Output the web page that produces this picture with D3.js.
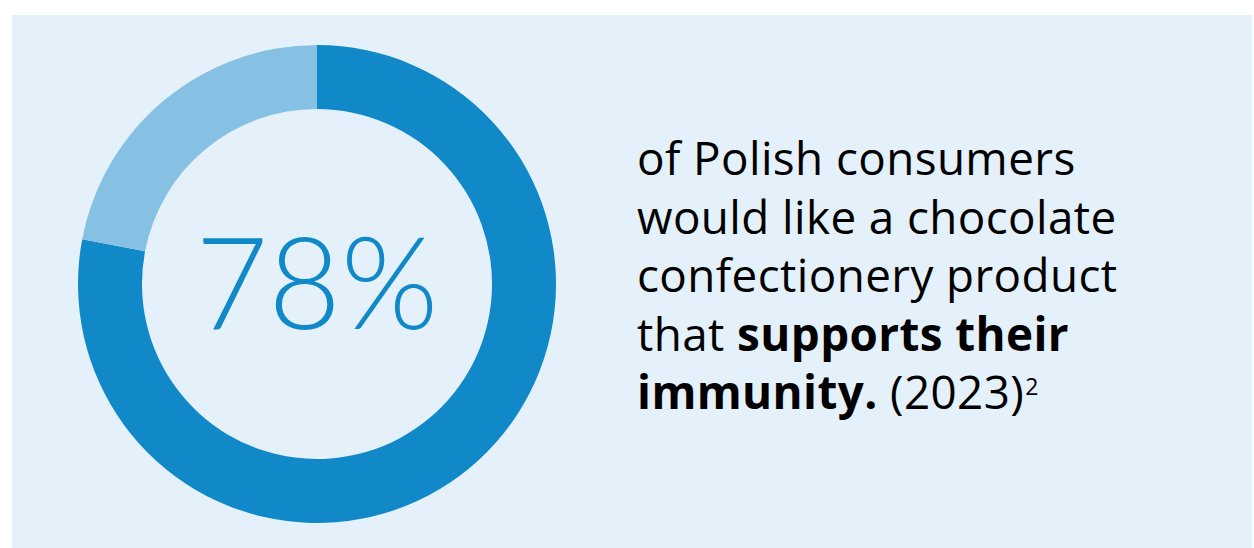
<!DOCTYPE html>
<html>
<head>
<meta charset="utf-8">
<script src="https://cdn.jsdelivr.net/npm/d3@7"></script>
<style>
  html, body { margin: 0; padding: 0; background: #ffffff; }
  svg { display: block; }
</style>
</head>
<body>
<svg id="chart" width="1254" height="548"></svg>
<script>
// Share of Polish consumers wanting an immunity-supporting chocolate product
const segmentNames = ["Would like it", "Other"];
const segmentValues = [78, 22];
const segmentColors = ["#1189C9", "#86C1E4"];
const headlineLabel = "78%";

// Caption lines; each piece is [text, bold?]
const captionLines = [
  [["of Polish consumers", false]],
  [["would like a chocolate", false]],
  [["confectionery product", false]],
  [["that ", false], ["supports their", true]],
  [["immunity.", true], [" (2023)", false]]
];
const footnoteMark = "2";

const W = 1254, H = 548;
const BIG_FONT = "Lato, 'Open Sans', sans-serif";
const TEXT_FONT = "'Open Sans', Lato, sans-serif";
const svg = d3.select("#chart");

// light panel behind everything
svg.append("rect")
  .attr("x", 12).attr("y", 15)
  .attr("width", 1240).attr("height", H - 15)
  .attr("fill", "#E4F1FA");

// donut
const cx = 317, cy = 284;
const pie = d3.pie().sort(null).value(d => d);
const arc = d3.arc().innerRadius(175).outerRadius(239);
const g = svg.append("g").attr("transform", `translate(${cx},${cy})`);
g.selectAll("path")
  .data(pie(segmentValues))
  .join("path")
  .attr("d", arc)
  .attr("fill", (d, i) => segmentColors[i])
  .append("title").text((d, i) => segmentNames[i] + ": " + d.data + "%");

// big percentage in the hole
const big = g.append("text")
  .attr("x", 0)
  .attr("y", 45)
  .attr("text-anchor", "middle")
  .attr("font-family", BIG_FONT)
  .attr("font-weight", 300)
  .attr("font-size", 128)
  .attr("fill", "#1189C9")
  .text(headlineLabel);
const bigW = big.node().getComputedTextLength();
if (Math.abs(bigW - 243) > 3) {
  big.attr("textLength", 243).attr("lengthAdjust", "spacingAndGlyphs");
}

// caption block
const tx = 637, firstBase = 175, lineGap = 58.5;
let fontSize = 36;
const cap = svg.append("g")
  .attr("font-family", TEXT_FONT)
  .attr("letter-spacing", 0.4)
  .attr("fill", "#000000");

const textEls = captionLines.map((pieces, i) => {
  const t = cap.append("text")
    .attr("x", tx)
    .attr("y", firstBase + i * lineGap)
    .attr("font-size", fontSize);
  pieces.forEach(([s, b]) => {
    t.append("tspan")
      .attr("font-weight", b ? 700 : 400)
      .text(s);
  });
  return t;
});

// size the caption so its widest line spans the same measure
const widest = textEls[2].node().getComputedTextLength();
fontSize = fontSize * 483 / widest;
textEls.forEach(t => t.attr("font-size", fontSize));

// footnote marker after the last line
const last = textEls[textEls.length - 1];
last.append("tspan")
  .attr("font-size", 23)
  .attr("font-weight", 400)
  .attr("letter-spacing", 0)
  .attr("dy", -14)
  .attr("dx", 1)
  .text(footnoteMark);
</script>
</body>
</html>
